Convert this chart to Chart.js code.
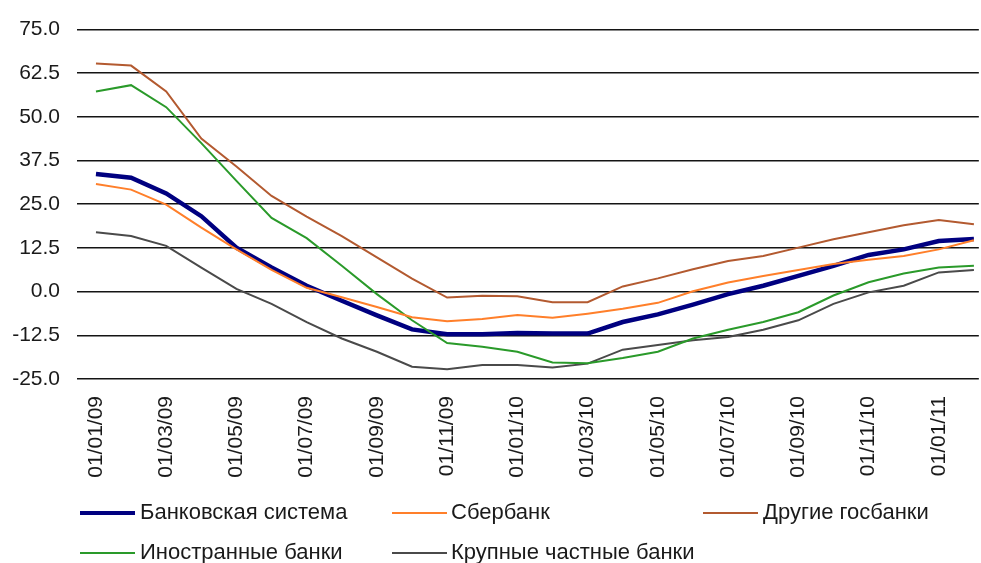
<!DOCTYPE html>
<html>
<head>
<meta charset="utf-8">
<script src="https://cdn.jsdelivr.net/npm/chart.js@4.4.1/dist/chart.umd.min.js"></script>
<style>
  html, body { margin: 0; padding: 0; background: #fff; overflow: hidden; }
  #wrap { position: relative; width: 981px; height: 563px; }
  canvas { position: absolute; left: 0; top: 0; }
  .lg { position: absolute; font-family: "Liberation Sans", Arial, sans-serif; font-size: 22px; color: #1a1a1a; line-height: 24px; white-space: nowrap; }
  .sw { position: absolute; }
</style>
</head>
<body>
<div id="wrap">
  <canvas id="c" width="981" height="563"></canvas>
  <div id="legend"></div>
</div>
<script>
const categories = ["01/01/09","01/02/09","01/03/09","01/04/09","01/05/09","01/06/09","01/07/09","01/08/09","01/09/09","01/10/09","01/11/09","01/12/09",
  "01/01/10","01/02/10","01/03/10","01/04/10","01/05/10","01/06/10","01/07/10","01/08/10","01/09/10","01/10/10","01/11/10","01/12/10",
  "01/01/11","01/02/11"];

const bankSystem = [33.7,32.6,28.1,21.6,12.6,6.9,1.7,-2.6,-6.8,-10.8,-12.2,-12.2,-11.8,-12.0,-12.0,-8.7,-6.5,-3.7,-0.7,1.7,4.5,7.4,10.5,12.1,14.5,15.1];
const sberbank   = [30.8,29.2,24.9,18.3,12.1,6.2,1.1,-1.6,-4.4,-7.3,-8.5,-7.8,-6.7,-7.5,-6.3,-4.9,-3.2,0.1,2.6,4.5,6.2,7.9,9.1,10.2,12.1,14.7];
const otherState = [65.3,64.7,57.3,43.8,35.8,27.4,21.5,15.9,9.8,3.7,-1.7,-1.2,-1.3,-3.0,-3.0,1.5,3.8,6.4,8.8,10.2,12.6,15.0,17.0,19.0,20.5,19.3];
const foreign    = [57.3,59.1,52.8,42.5,31.7,21.1,15.3,7.4,-0.7,-8.2,-14.7,-15.8,-17.2,-20.3,-20.5,-19.0,-17.2,-13.4,-10.9,-8.7,-5.9,-1.1,2.7,5.2,6.9,7.4];
const largePriv  = [17.0,15.9,13.1,6.9,0.8,-3.5,-8.7,-13.4,-17.2,-21.5,-22.2,-21.0,-21.0,-21.7,-20.6,-16.6,-15.3,-13.9,-13.0,-10.9,-8.2,-3.5,-0.2,1.7,5.5,6.2];

const seriesNames = ["Банковская система","Сбербанк","Другие госбанки","Иностранные банки","Крупные частные банки"];
const seriesColors = ["#000080","#FF7F2A","#B35A30","#2A9A2A","#4A4A4A"];
const seriesWidths = [4.5,2,2,2,2];
const seriesData = [bankSystem, sberbank, otherState, foreign, largePriv];
const yTicks = [-25,-12.5,0,12.5,25,37.5,50,62.5,75];

const FONT = '"Liberation Sans", Arial, sans-serif';

const datasets = seriesData.map((arr, k) => ({
  label: seriesNames[k],
  data: arr.map((v, i) => ({x: i, y: v})),
  borderColor: seriesColors[k],
  backgroundColor: seriesColors[k],
  borderWidth: seriesWidths[k],
  pointRadius: 0,
  tension: 0,
  fill: false
}));
const order = [1,2,3,4,0];

new Chart(document.getElementById('c'), {
  type: 'line',
  data: { datasets: order.map(k => datasets[k]) },
  options: {
    responsive: false,
    animation: false,
    events: [],
    layout: { padding: { top: 25, right: 0, left: 0, bottom: 0 } },
    plugins: { legend: { display: false }, tooltip: { enabled: false } },
    scales: {
      x: {
        type: 'linear',
        min: -0.54,
        max: 25.14,
        grid: { display: false, drawTicks: false },
        border: { display: false },
        afterBuildTicks: s => { s.ticks = categories.map((c, i) => ({value: i})).filter(t => t.value % 2 === 0); },
        afterFit: s => { s.height = 563 - 379; },
        ticks: {
          autoSkip: false,
          maxRotation: 90, minRotation: 90,
          padding: 17,
          color: '#1a1a1a',
          font: { family: FONT, size: 21 },
          callback: v => categories[v]
        }
      },
      y: {
        min: -25, max: 75,
        afterBuildTicks: s => { s.ticks = yTicks.map(v => ({value: v})); },
        afterFit: s => { s.width = 77; },
        grid: { color: '#141414', lineWidth: 1.6, drawTicks: false },
        border: { display: false },
        ticks: {
          padding: 17,
          color: '#1a1a1a',
          font: { family: FONT, size: 21 },
          callback: v => v.toFixed(1)
        }
      }
    }
  }
});

const legendPos = [
  {lx: 80, tx: 140, y: 513},
  {lx: 392, tx: 451, y: 513},
  {lx: 703, tx: 763, y: 513},
  {lx: 80, tx: 140, y: 553},
  {lx: 392, tx: 451, y: 553}
];
const lg = document.getElementById('legend');
seriesNames.forEach((name, k) => {
  const p = legendPos[k];
  const sw = document.createElement('div');
  sw.className = 'sw';
  const h = k === 0 ? 4 : 2;
  sw.style.cssText = `left:${p.lx}px;top:${p.y - h/2}px;width:55px;height:${h}px;background:${seriesColors[k]};`;
  lg.appendChild(sw);
  const t = document.createElement('div');
  t.className = 'lg';
  t.style.left = p.tx + 'px';
  t.style.top = (p.y - 13) + 'px';
  t.textContent = name;
  lg.appendChild(t);
});
</script>
</body>
</html>
